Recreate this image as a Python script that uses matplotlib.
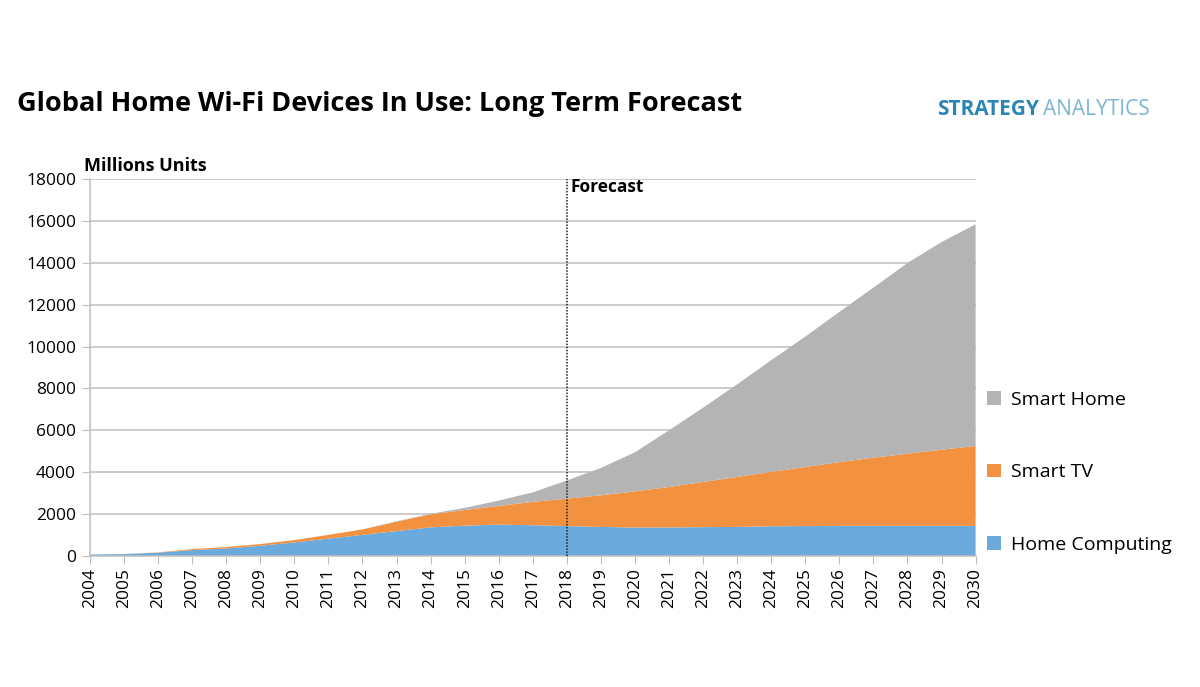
import numpy as np
import matplotlib
matplotlib.use("Agg")
import matplotlib.pyplot as plt

# data (millions of units)
years = list(range(2004, 2031))
home_computing = [60, 80, 150, 270, 350, 480, 640, 820, 1000, 1180, 1360, 1440, 1490, 1460,
                  1420, 1380, 1350, 1350, 1370, 1380, 1410, 1420, 1430, 1430, 1430, 1430, 1430]
smart_tv = [0, 5, 10, 50, 70, 80, 110, 180, 260, 450, 620, 750, 890, 1120,
            1310, 1510, 1730, 1940, 2160, 2390, 2600, 2825, 3050, 3260, 3450, 3640, 3820]
smart_home = [0, 0, 0, 0, 0, 0, 0, 0, 0, 20, 30, 100, 260, 450,
              870, 1310, 1870, 2710, 3550, 4430, 5340, 6235, 7180, 8130, 9120, 9930, 10600]
series_names = ["Home Computing", "Smart TV", "Smart Home"]
colors = ["#6aaadd", "#f29140", "#b4b4b4"]
forecast_year = 2018
y_ticks = list(range(0, 18001, 2000))

plt.rcParams['font.family'] = ['Open Sans', 'DejaVu Sans']

fig = plt.figure(figsize=(12, 6.87), dpi=100)
ax = fig.add_axes([0.075, 0.191, 0.738, 0.548])

polys = ax.stackplot(years, home_computing, smart_tv, smart_home,
                     colors=colors, labels=series_names, linewidth=0)

ax.set_xlim(years[0], years[-1])
ax.set_ylim(0, 18000)
ax.set_yticks(y_ticks)
ax.set_xticks(years)
ax.set_xticklabels([str(y) for y in years], rotation=90, fontsize=12.5)
ax.tick_params(axis='y', length=6, color='#bfbfbf', labelsize=12.5, pad=4)
ax.tick_params(axis='x', length=6, color='#bfbfbf', pad=3)

ax.grid(axis='y', color='#bfbfbf', linewidth=1.1)
ax.set_axisbelow(True)
for side in ['top', 'right']:
    ax.spines[side].set_visible(False)
ax.spines['left'].set_color('#bfbfbf')
ax.spines['bottom'].set_color('#bfbfbf')
ax.spines['left'].set_linewidth(1.1)
ax.spines['bottom'].set_linewidth(1.1)

# forecast divider
ax.axvline(forecast_year, color='#222222', linestyle=(0, (1, 1)), linewidth=1.1, zorder=5)
ax.text(forecast_year + 0.12, 18050, "Forecast", fontsize=12.5, fontweight='bold',
        va='top', ha='left')

ax.text(-0.007, 1.012, "Millions Units", transform=ax.transAxes, fontsize=13,
        fontweight='bold', va='bottom', ha='left')

# legend, top-down order as in the reference
handles, labels = ax.get_legend_handles_labels()
ax.legend(handles[::-1], labels[::-1], loc='center left', bbox_to_anchor=(1.0, 0.222),
          frameon=False, fontsize=14, handlelength=0.7, handleheight=0.7,
          handletextpad=0.5, labelspacing=2.8, borderaxespad=0.2)

fig.text(0.014, 0.848, "Global Home Wi-Fi Devices In Use: Long Term Forecast",
         fontsize=19.5, fontweight='bold', va='center', ha='left')
fig.text(0.781, 0.84, "STRATEGY", fontsize=15, fontweight='bold', color='#2a86b4',
         va='center', ha='left')
fig.text(0.869, 0.84, "ANALYTICS", fontsize=15, color='#7ab7d3',
         va='center', ha='left')

fig.savefig("out.png", dpi=100)
